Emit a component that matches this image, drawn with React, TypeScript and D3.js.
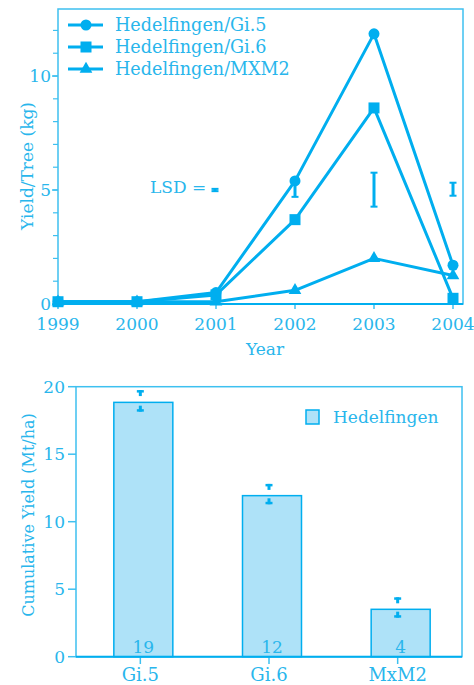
import React from "react";
import * as d3 from "d3";

// top chart: yield per tree
const years = [1999, 2000, 2001, 2002, 2003, 2004];
const seriesNames = ["Hedelfingen/Gi.5", "Hedelfingen/Gi.6", "Hedelfingen/MXM2"];
const gi5 = [0.1, 0.1, 0.5, 5.4, 11.85, 1.7];
const gi6 = [0.1, 0.1, 0.4, 3.7, 8.6, 0.25];
const mxm2 = [0.1, 0.1, 0.1, 0.6, 2.0, 1.25];
const lsdYears = [2001, 2002, 2003, 2004];
const lsdLow = [4.95, 4.7, 4.27, 4.75];
const lsdHigh = [5.05, 5.5, 5.76, 5.32];
const yTicksTop = [0, 5, 10];

// bottom chart: cumulative yield
const rootstocks = ["Gi.5", "Gi.6", "MxM2"];
const cumYield = [18.84, 11.93, 3.51];
const cumLabels = ["19", "12", "4"];
const cumHigh = [19.75, 12.8, 4.4];
const cumLow = [18.15, 11.29, 2.89];
const yTicksBottom = [0, 5, 10, 15, 20];

const C = "#00AEEF";
const TXT = "#29B6EC";
const FRAME = "#3EC0F0";
const FONT = "DejaVu Serif";
const FS = 17;

const Marker = ({ kind, x, y }: { kind: number; x: number; y: number }) => {
  if (kind === 0) return <circle cx={x} cy={y} r={5.5} fill={C} />;
  if (kind === 1) return <rect x={x - 5.5} y={y - 5.5} width={11} height={11} fill={C} />;
  const sym = d3.symbol().type(d3.symbolTriangle).size(70)();
  return <path d={sym || ""} transform={`translate(${x},${y})`} fill={C} />;
};

const App = () => {
  const W = 474;
  const H = 685;

  // ---- top
  const x1 = d3.scaleLinear().domain([1999, 2004]).range([58, 453]);
  const y1 = d3.scaleLinear().domain([0, 12.94]).range([304, 9]);
  const series = [gi5, gi6, mxm2];
  const line = d3
    .line<number>()
    .x((_, i) => x1(years[i]))
    .y((d) => y1(d));
  const minorTop = d3.range(1, 13);

  // ---- bottom
  const x2 = d3.scalePoint<string>().domain(rootstocks).range([76, 462]).padding(0.5);
  const y2 = d3.scaleLinear().domain([0, 20]).range([656.7, 386.7]);
  const barW = 59;
  const barShift = 3;

  return (
    <svg
      width={W}
      height={H}
      style={{ position: "absolute", left: 0, top: 0, background: "#fff" }}
      fontFamily={FONT}
    >
      {/* ===== top chart ===== */}
      <rect x={58} y={9} width={463 - 58} height={304 - 9} fill="none" stroke={FRAME} strokeWidth={1.5} />
      {minorTop.map((t) => (
        <line key={t} x1={53} x2={58} y1={y1(t)} y2={y1(t)} stroke={FRAME} strokeWidth={1.2} />
      ))}
      {yTicksTop.map((t) => (
        <g key={t}>
          <line x1={52} x2={58} y1={y1(t)} y2={y1(t)} stroke={FRAME} strokeWidth={1.5} />
          <text x={51} y={y1(t) + 6} textAnchor="end" fontSize={FS} fill={TXT}>
            {t}
          </text>
        </g>
      ))}
      {years.map((yr) => (
        <g key={yr}>
          <line x1={x1(yr)} x2={x1(yr)} y1={304} y2={309} stroke={FRAME} strokeWidth={1.5} />
          <text x={x1(yr)} y={330} textAnchor="middle" fontSize={FS} fill={TXT}>
            {yr}
          </text>
        </g>
      ))}
      <line x1={58} x2={463} y1={304} y2={304} stroke={C} strokeWidth={2} />
      <text x={265} y={355} textAnchor="middle" fontSize={FS} fill={TXT}>
        Year
      </text>
      <text transform="translate(33,166) rotate(-90)" textAnchor="middle" fontSize={FS} fill={TXT}>
        Yield/Tree (kg)
      </text>

      {series.map((s, k) => (
        <g key={k}>
          <path d={line(s) || ""} fill="none" stroke={C} strokeWidth={3} strokeLinejoin="round" />
          {s.map((v, i) => (
            <Marker key={i} kind={k} x={x1(years[i])} y={y1(v)} />
          ))}
        </g>
      ))}

      {/* LSD bars */}
      <text x={150} y={193} fontSize={FS} fill={TXT}>
        LSD =
      </text>
      {lsdYears.map((yr, i) => {
        const xx = yr === 2001 ? 215 : x1(yr);
        return (
          <g key={yr} stroke={C} strokeWidth={3}>
            <line x1={xx} x2={xx} y1={y1(lsdLow[i])} y2={y1(lsdHigh[i])} />
            <line x1={xx - 3.5} x2={xx + 3.5} y1={y1(lsdLow[i])} y2={y1(lsdLow[i])} strokeWidth={2} />
            <line x1={xx - 3.5} x2={xx + 3.5} y1={y1(lsdHigh[i])} y2={y1(lsdHigh[i])} strokeWidth={2} />
          </g>
        );
      })}

      {/* legend */}
      {seriesNames.map((n, k) => {
        const yy = 25 + k * 22;
        return (
          <g key={n}>
            <line x1={68} x2={103} y1={yy} y2={yy} stroke={C} strokeWidth={3} />
            <Marker kind={k} x={86} y={yy} />
            <text x={115} y={yy + 6} fontSize={17.6} fill={TXT}>
              {n}
            </text>
          </g>
        );
      })}

      {/* ===== bottom chart ===== */}
      <rect x={76} y={386.7} width={462 - 76} height={656.7 - 386.7} fill="none" stroke={FRAME} strokeWidth={1.5} />
      {yTicksBottom.map((t) => (
        <g key={t}>
          <line x1={68} x2={76} y1={y2(t)} y2={y2(t)} stroke={FRAME} strokeWidth={1.5} />
          <text x={65} y={y2(t) + 6} textAnchor="end" fontSize={FS} fill={TXT}>
            {t}
          </text>
        </g>
      ))}
      {rootstocks.map((r, i) => {
        const cx = x2(r) as number;
        const bx = cx + barShift - barW / 2;
        const hi = y2(cumHigh[i]);
        const lo = y2(cumLow[i]);
        return (
          <g key={r}>
            <rect
              x={bx}
              y={y2(cumYield[i])}
              width={barW}
              height={y2(0) - y2(cumYield[i])}
              fill="#AEE2F8"
              stroke={C}
              strokeWidth={1.5}
            />
            <text x={cx + barShift} y={653} textAnchor="middle" fontSize={FS} fill={TXT}>
              {cumLabels[i]}
            </text>
            <line x1={cx} x2={cx} y1={656.7} y2={664} stroke={FRAME} strokeWidth={1.5} />
            <text x={cx} y={681} textAnchor="middle" fontSize={FS + 1} fill={TXT}>
              {r}
            </text>
            {/* error markers */}
            <rect x={cx - 3.5} y={hi} width={7} height={2.5} fill={C} />
            <rect x={cx - 1.5} y={hi} width={3} height={6} fill={C} />
            <rect x={cx - 3.5} y={lo - 2.5} width={7} height={2.5} fill={C} />
            <rect x={cx - 1.5} y={lo - 6} width={3} height={6} fill={C} />
          </g>
        );
      })}
      <line x1={76} x2={462} y1={656.7} y2={656.7} stroke={C} strokeWidth={2} />
      <text transform="translate(34,515) rotate(-90)" textAnchor="middle" fontSize={16} fill={TXT}>
        Cumulative Yield (Mt/ha)
      </text>
      {/* legend */}
      <rect x={306} y={410} width={13} height={14} fill="#AEE2F8" stroke={C} strokeWidth={1.5} />
      <text x={333} y={423} fontSize={FS} fill={TXT}>
        Hedelfingen
      </text>
    </svg>
  );
};

export default App;
